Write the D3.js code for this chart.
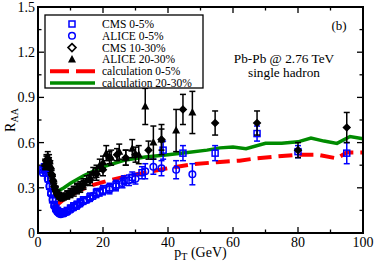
<!DOCTYPE html>
<html>
<head>
<meta charset="utf-8">
<script src="https://cdn.jsdelivr.net/npm/d3@7"></script>
<style>
  body { margin: 0; background: #fff; }
  svg, svg text { font-family: "Liberation Serif", "Times New Roman", Times, "DejaVu Serif", serif; }
</style>
</head>
<body>
<svg id="chart"></svg>
<script>
const size = { width: 374, height: 265 };
const margin = { top: 7, right: 11, bottom: 32, left: 38 };

// CMS 0-5% (blue squares)
const cms05Pt = [1.5, 2, 2.4, 2.8, 3.2, 3.6, 4, 4.5, 5, 5.5, 6, 6.5, 7, 7.5, 8, 9, 10, 11, 12, 13, 14, 16, 18, 20, 22, 24, 26.5, 29, 32, 38.5, 44.6, 54.5, 67.4, 80, 95];
const cms05R = [0.42, 0.44, 0.43, 0.4, 0.36, 0.31, 0.27, 0.22, 0.19, 0.165, 0.15, 0.14, 0.135, 0.135, 0.14, 0.15, 0.165, 0.18, 0.19, 0.205, 0.22, 0.24, 0.27, 0.285, 0.3, 0.32, 0.35, 0.37, 0.4, 0.55, 0.53, 0.53, 0.66, 0.54, 0.53];
const cms05Err = [0.02, 0.02, 0.02, 0.02, 0.02, 0.02, 0.02, 0.015, 0.015, 0.015, 0.015, 0.015, 0.015, 0.015, 0.015, 0.015, 0.02, 0.02, 0.02, 0.02, 0.02, 0.025, 0.025, 0.03, 0.03, 0.03, 0.03, 0.035, 0.04, 0.06, 0.05, 0.05, 0.05, 0.04, 0.07];

// ALICE 0-5% (blue circles)
const alice05Pt = [1.5, 2, 2.5, 3, 3.5, 4, 4.5, 5, 5.5, 6, 6.5, 7, 8, 9, 10, 11, 12, 13, 14, 15, 16, 17, 18, 19, 20, 22, 24, 26, 28, 30, 33, 35.5, 38, 42.5, 47.5];
const alice05R = [0.4, 0.42, 0.4, 0.36, 0.31, 0.26, 0.22, 0.18, 0.155, 0.14, 0.13, 0.125, 0.13, 0.14, 0.155, 0.17, 0.18, 0.195, 0.21, 0.22, 0.23, 0.245, 0.26, 0.27, 0.28, 0.29, 0.31, 0.33, 0.35, 0.36, 0.41, 0.44, 0.43, 0.42, 0.39];
const alice05Err = [0.02, 0.02, 0.02, 0.02, 0.02, 0.015, 0.015, 0.015, 0.015, 0.015, 0.015, 0.015, 0.015, 0.015, 0.015, 0.02, 0.02, 0.02, 0.02, 0.02, 0.02, 0.02, 0.025, 0.025, 0.025, 0.03, 0.03, 0.03, 0.035, 0.035, 0.05, 0.05, 0.05, 0.06, 0.07];

// CMS 10-30% (black diamonds)
const cms1030Pt = [2.2, 2.6, 3, 3.4, 3.8, 4.2, 4.6, 5, 5.5, 6, 6.5, 7, 7.5, 8, 9, 10, 11, 12, 13, 14, 16, 18, 20, 22, 24.3, 27, 30, 34, 38, 44.6, 54.5, 67.4, 80, 95];
const cms1030R = [0.45, 0.48, 0.49, 0.47, 0.43, 0.39, 0.35, 0.31, 0.28, 0.26, 0.245, 0.235, 0.235, 0.24, 0.25, 0.26, 0.275, 0.29, 0.3, 0.32, 0.35, 0.39, 0.42, 0.5, 0.52, 0.5, 0.52, 0.55, 0.62, 0.82, 0.73, 0.73, 0.55, 0.7];
const cms1030Err = [0.03, 0.03, 0.03, 0.03, 0.03, 0.025, 0.025, 0.02, 0.02, 0.02, 0.02, 0.02, 0.02, 0.02, 0.025, 0.025, 0.03, 0.03, 0.03, 0.03, 0.035, 0.04, 0.04, 0.04, 0.04, 0.05, 0.05, 0.06, 0.07, 0.1, 0.08, 0.08, 0.05, 0.1];

// ALICE 20-30% (black triangles)
const alice2030Pt = [2.2, 2.6, 3, 3.4, 3.8, 4.2, 4.6, 5, 5.5, 6, 6.5, 7, 8, 9, 10, 11, 12, 13, 14, 15, 16, 17, 18, 19, 20, 21, 22.5, 25, 27, 29, 31, 33, 35.5, 38, 42.5, 47.5];
const alice2030R = [0.46, 0.49, 0.51, 0.49, 0.45, 0.4, 0.36, 0.32, 0.29, 0.265, 0.25, 0.24, 0.245, 0.255, 0.27, 0.285, 0.3, 0.31, 0.33, 0.35, 0.37, 0.4, 0.41, 0.45, 0.47, 0.53, 0.5, 0.54, 0.5, 0.56, 0.52, 0.84, 0.6, 0.62, 0.68, 0.8];
const alice2030Err = [0.03, 0.03, 0.03, 0.03, 0.03, 0.025, 0.025, 0.02, 0.02, 0.02, 0.02, 0.02, 0.02, 0.025, 0.025, 0.025, 0.03, 0.03, 0.03, 0.03, 0.035, 0.035, 0.04, 0.04, 0.04, 0.05, 0.05, 0.05, 0.05, 0.06, 0.06, 0.12, 0.11, 0.1, 0.14, 0.14];

// calculations
const calc05Pt = [5.5, 8, 10, 13, 17, 22, 28, 34, 40, 47, 55, 62, 67, 72, 80, 86, 92, 95, 100];
const calc05R = [0.18, 0.225, 0.25, 0.285, 0.32, 0.35, 0.38, 0.405, 0.43, 0.455, 0.47, 0.48, 0.495, 0.505, 0.52, 0.52, 0.495, 0.535, 0.535];
const calc2030Pt = [5.5, 8, 10, 14, 20, 27, 33, 40, 46, 52, 56, 60, 64, 70, 75, 80, 84, 88, 92, 96, 100];
const calc2030R = [0.27, 0.3, 0.33, 0.38, 0.44, 0.485, 0.505, 0.52, 0.535, 0.55, 0.565, 0.57, 0.56, 0.595, 0.595, 0.605, 0.63, 0.61, 0.595, 0.64, 0.625];

const xTicks = [0, 20, 40, 60, 80, 100];
const yTicks = [0, 0.3, 0.6, 0.9, 1.2, 1.5];
const yTickLabels = ["0", "0.3", "0.6", "0.9", "1.2", "1.5"];
const legendLabels = ["CMS 0-5%", "ALICE 0-5%", "CMS 10-30%", "ALICE 20-30%", "calculation 0-5%", "calculation 20-30%"];

const BLUE = "#0000ff";
const RED = "#ff0000";
const GREEN = "#008b00";
const FONT = "'Liberation Serif', 'Times New Roman', Times, 'DejaVu Serif', serif";

const svg = d3.select("#chart")
  .attr("width", size.width)
  .attr("height", size.height)
  .attr("font-family", FONT);

const x = d3.scaleLinear().domain([0, 100]).range([margin.left, size.width - margin.right]);
const y = d3.scaleLinear().domain([0, 1.5]).range([size.height - margin.bottom, margin.top]);

const x0 = margin.left, x1 = size.width - margin.right;
const y0 = size.height - margin.bottom, y1 = margin.top;

// ticks on all four sides, pointing inward
const tickG = svg.append("g").attr("stroke", "black").attr("stroke-width", 1.3);
d3.range(0, 101, 10).forEach((v) => {
  const len = v % 20 === 0 ? 6 : 3.5;
  tickG.append("line").attr("x1", x(v)).attr("x2", x(v)).attr("y1", y0).attr("y2", y0 - len);
  tickG.append("line").attr("x1", x(v)).attr("x2", x(v)).attr("y1", y1).attr("y2", y1 + len);
});
d3.range(0, 1.51, 0.15).forEach((v, i) => {
  const len = i % 2 === 0 ? 6 : 3.5;
  tickG.append("line").attr("x1", x0).attr("x2", x0 + len).attr("y1", y(v)).attr("y2", y(v));
  tickG.append("line").attr("x1", x1).attr("x2", x1 - len).attr("y1", y(v)).attr("y2", y(v));
});

svg.append("g")
  .selectAll("text")
  .data(xTicks)
  .enter()
  .append("text")
  .attr("x", (d) => x(d))
  .attr("y", y0 + 14)
  .attr("text-anchor", "middle")
  .attr("font-size", 14)
  .text((d) => d);

svg.append("g")
  .selectAll("text")
  .data(yTicks)
  .enter()
  .append("text")
  .attr("x", x0 - 3)
  .attr("y", (d) => y(d) + 5)
  .attr("text-anchor", "end")
  .attr("font-size", 14)
  .text((d, i) => yTickLabels[i]);

// axis titles
const xt = svg.append("text")
  .attr("x", (x0 + x1) / 2)
  .attr("y", 257)
  .attr("text-anchor", "middle")
  .attr("font-size", 14);
xt.append("tspan").text("p");
xt.append("tspan").attr("font-size", 10).attr("dy", 3).text("T");
xt.append("tspan").attr("dy", -3).text(" (GeV)");

const yt = svg.append("text")
  .attr("transform", `translate(15, ${(y0 + y1) / 2}) rotate(-90)`)
  .attr("text-anchor", "middle")
  .attr("font-size", 14);
yt.append("tspan").text("R");
yt.append("tspan").attr("font-size", 10).attr("dy", 3).text("AA");

// calculation curves
const line = d3.line().x((d) => x(d[0])).y((d) => y(d[1]));
svg.append("path")
  .datum(calc05Pt.map((p, i) => [p, calc05R[i]]))
  .attr("d", line)
  .attr("fill", "none")
  .attr("stroke", RED)
  .attr("stroke-width", 4)
  .attr("stroke-dasharray", "14,7");
svg.append("path")
  .datum(calc2030Pt.map((p, i) => [p, calc2030R[i]]))
  .attr("d", line)
  .attr("fill", "none")
  .attr("stroke", GREEN)
  .attr("stroke-width", 3.5);

// data sets
const sets = [
  { pt: cms05Pt, r: cms05R, err: cms05Err, color: BLUE, shape: "square" },
  { pt: alice05Pt, r: alice05R, err: alice05Err, color: BLUE, shape: "circle" },
  { pt: cms1030Pt, r: cms1030R, err: cms1030Err, color: "black", shape: "diamond" },
  { pt: alice2030Pt, r: alice2030R, err: alice2030Err, color: "black", shape: "triangle" },
];

function marker(g, shape, color, cx, cy, legendSize) {
  if (shape === "square") {
    g.append("rect").attr("x", cx - 3).attr("y", cy - 3).attr("width", 6).attr("height", 6)
      .attr("fill", "none").attr("stroke", color).attr("stroke-width", 1.5);
  } else if (shape === "circle") {
    g.append("circle").attr("cx", cx).attr("cy", cy).attr("r", 3.3)
      .attr("fill", "none").attr("stroke", color).attr("stroke-width", 1.5);
  } else if (shape === "diamond") {
    const d = legendSize ? 4 : 3.2;
    g.append("path").attr("d", `M${cx},${cy - d}L${cx + d},${cy}L${cx},${cy + d}L${cx - d},${cy}Z`)
      .attr("fill", legendSize ? "none" : color).attr("stroke", color).attr("stroke-width", 1.6);
  } else {
    g.append("path").attr("d", `M${cx},${cy - 4.5}L${cx + 4},${cy + 3}L${cx - 4},${cy + 3}Z`)
      .attr("fill", color);
  }
}

sets.forEach((s) => {
  const g = svg.append("g");
  s.pt.forEach((p, i) => {
    const cx = x(p);
    const top = y(s.r[i] + s.err[i]);
    const bot = y(s.r[i] - s.err[i]);
    g.append("line").attr("x1", cx).attr("x2", cx).attr("y1", top).attr("y2", bot)
      .attr("stroke", s.color).attr("stroke-width", 1.5);
    [top, bot].forEach((yy) => {
      g.append("line").attr("x1", cx - 3).attr("x2", cx + 3).attr("y1", yy).attr("y2", yy)
        .attr("stroke", s.color).attr("stroke-width", 1.5);
    });
    marker(g, s.shape, s.color, cx, y(s.r[i]), false);
  });
});

// frame
svg.append("rect")
  .attr("x", x0).attr("y", y1)
  .attr("width", x1 - x0).attr("height", y0 - y1)
  .attr("fill", "none").attr("stroke", "black").attr("stroke-width", 2);

// legend
const legend = svg.append("g");
legend.append("rect")
  .attr("x", 45).attr("y", 15).attr("width", 158).attr("height", 73)
  .attr("fill", "white").attr("stroke", "black").attr("stroke-width", 1.3);

legendLabels.forEach((lab, i) => {
  const ly = 24 + i * 11.8;
  if (i < 4) {
    marker(legend, sets[i].shape, sets[i].color, 72, ly, true);
  } else {
    legend.append("line").attr("x1", 50).attr("x2", 95).attr("y1", ly).attr("y2", ly)
      .attr("stroke", i === 4 ? RED : GREEN).attr("stroke-width", i === 4 ? 4 : 3.5)
      .attr("stroke-dasharray", i === 4 ? "19,7" : null);
  }
  legend.append("text").attr("x", 102).attr("y", ly + 4).attr("font-size", 11.5)
    .attr("textLength", null).text(lab);
});

// annotations
svg.append("text").attr("x", 339).attr("y", 30).attr("text-anchor", "middle").attr("font-size", 13).text("(b)");
svg.append("text").attr("x", 284).attr("y", 63).attr("text-anchor", "middle").attr("font-size", 13.3).text("Pb-Pb @ 2.76 TeV");
svg.append("text").attr("x", 284).attr("y", 77).attr("text-anchor", "middle").attr("font-size", 13.3).text("single hadron");
</script>
</body>
</html>
